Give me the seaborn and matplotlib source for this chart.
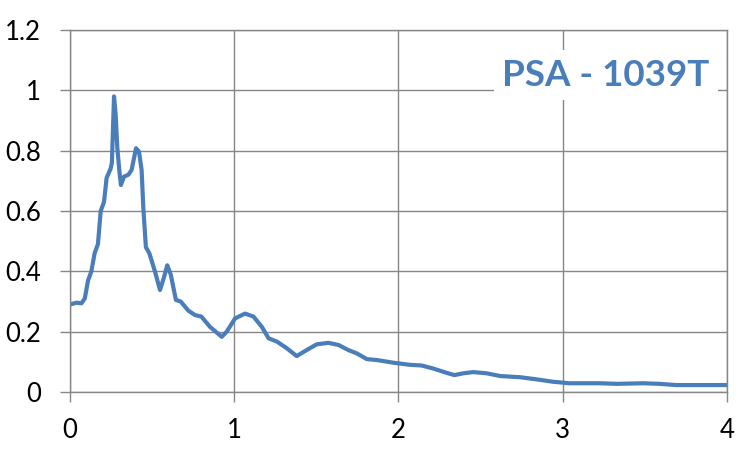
import matplotlib
matplotlib.use('Agg')
import matplotlib.pyplot as plt
import seaborn as sns
import pandas as pd
from matplotlib.ticker import FuncFormatter

# spectral acceleration curve
period = [0.0, 0.04, 0.07, 0.09, 0.11, 0.13, 0.15, 0.17, 0.187, 0.207, 0.223, 0.247, 0.255,
          0.268, 0.278, 0.288, 0.30, 0.31, 0.329, 0.355, 0.375, 0.402, 0.42, 0.436, 0.446,
          0.462, 0.483, 0.517, 0.548, 0.572, 0.592, 0.613, 0.645, 0.674, 0.72, 0.761, 0.80,
          0.852, 0.924, 0.954, 1.005, 1.066, 1.117, 1.168, 1.209, 1.26, 1.32, 1.38, 1.441,
          1.502, 1.573, 1.634, 1.695, 1.746, 1.807, 1.868, 1.97, 2.07, 2.14, 2.21, 2.29,
          2.34, 2.395, 2.455, 2.537, 2.618, 2.74, 2.84, 2.94, 3.04, 3.227, 3.33, 3.49,
          3.59, 3.69, 3.90, 4.0]
psa = [0.29, 0.296, 0.294, 0.31, 0.37, 0.40, 0.46, 0.49, 0.60, 0.63, 0.71, 0.74, 0.76,
       0.98, 0.92, 0.81, 0.736, 0.686, 0.714, 0.72, 0.736, 0.808, 0.797, 0.736, 0.614,
       0.48, 0.46, 0.40, 0.338, 0.38, 0.42, 0.39, 0.305, 0.30, 0.27, 0.255, 0.25,
       0.216, 0.183, 0.20, 0.244, 0.26, 0.25, 0.216, 0.178, 0.167, 0.145, 0.119, 0.139,
       0.158, 0.163, 0.156, 0.139, 0.128, 0.109, 0.106, 0.097, 0.09, 0.088, 0.078, 0.064,
       0.056, 0.062, 0.066, 0.062, 0.053, 0.049, 0.042, 0.034, 0.029, 0.029, 0.027, 0.029,
       0.027, 0.023, 0.023, 0.023]
x_ticks = [0, 1, 2, 3, 4]
y_ticks = [0, 0.2, 0.4, 0.6, 0.8, 1.0, 1.2]
title = 'PSA - 1039T'

blue = '#4A7EBB'
grid_col = '#868686'

sns.set_theme(style='white')
plt.rcParams['font.family'] = ['Lato', 'DejaVu Sans']

df = pd.DataFrame({'period': period, 'psa': psa})

fig = plt.figure(figsize=(7.47, 4.5), dpi=100)
ax = fig.add_axes([70 / 747, 58 / 450, 657 / 747, 362 / 450])
sns.lineplot(data=df, x='period', y='psa', sort=False, color=blue, linewidth=3, ax=ax)
ax.lines[0].set_solid_joinstyle('round')
ax.lines[0].set_solid_capstyle('round')

ax.set_xlim(0, 4)
ax.set_ylim(0, 1.2)
ax.set_xticks(x_ticks)
ax.set_yticks(y_ticks)
ax.yaxis.set_major_formatter(FuncFormatter(lambda v, p: '{:g}'.format(round(v, 2))))
ax.grid(True, color=grid_col, linewidth=1.0)
ax.set_axisbelow(True)
for s in ax.spines.values():
    s.set_color(grid_col)
    s.set_linewidth(1.0)
ax.tick_params(axis='both', direction='out', length=7, width=1.0, color=grid_col,
               labelsize=18.5, labelcolor='black')
ax.tick_params(axis='y', pad=14, left=True)
ax.tick_params(axis='x', pad=12, bottom=True)
ax.set_xlabel('')
ax.set_ylabel('')

ax.text(0.816, 0.875, title, transform=ax.transAxes, ha='center', va='center',
        fontsize=26.5, fontweight='bold', color=blue,
        bbox=dict(facecolor='white', edgecolor='none', pad=6))

fig.savefig('out.png', dpi=100)
